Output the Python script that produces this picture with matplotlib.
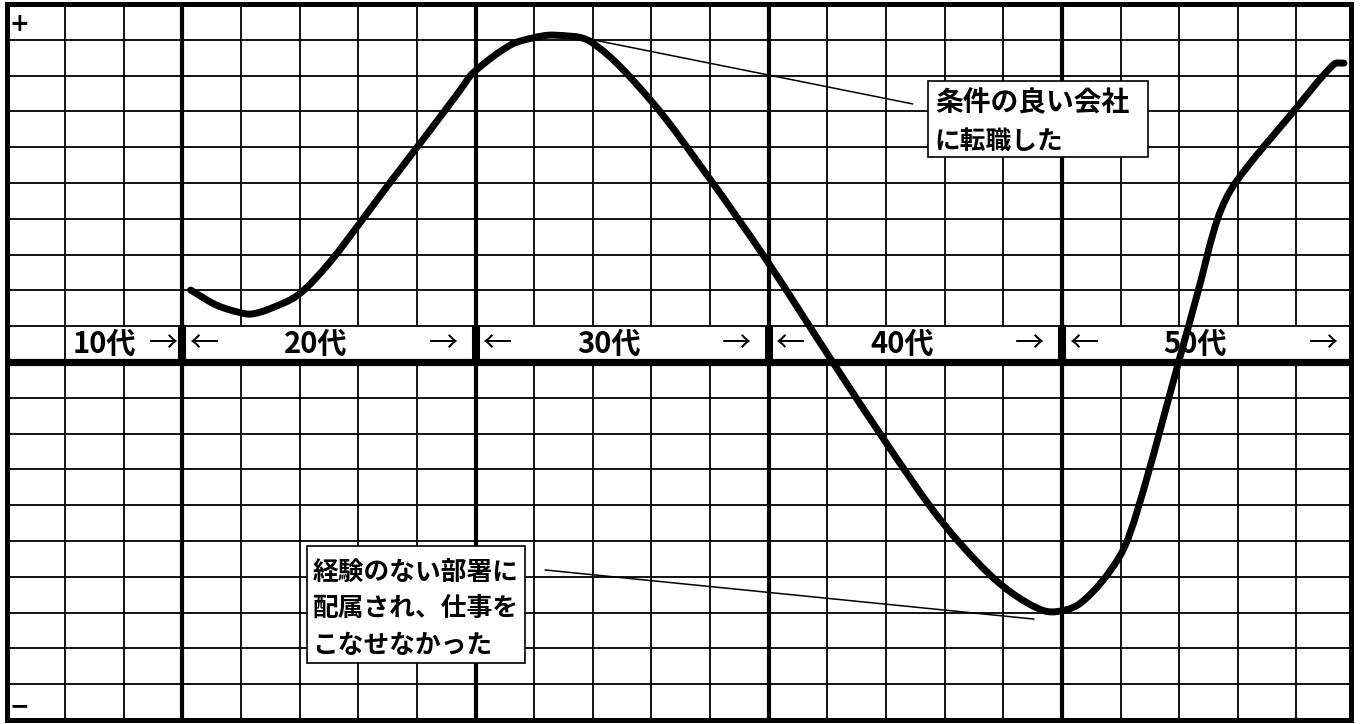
import matplotlib
matplotlib.use('Agg')
import matplotlib.pyplot as plt
from matplotlib.path import Path
from matplotlib.patches import PathPatch, Rectangle
import numpy as np

plt.rcParams['font.family'] = ['Noto Sans CJK JP', 'DejaVu Sans']

# ---------------- data ----------------
curve_x = [3.14, 3.58, 3.98, 4.18, 4.48, 4.97, 5.49, 5.98, 6.54, 7.19, 7.74, 7.96,
           8.59, 8.97, 9.33, 9.97, 10.98, 11.97, 12.96, 14.09, 14.97, 15.76, 16.27,
           16.87, 17.38, 17.81, 18.32, 18.97, 19.29, 19.99, 20.32, 20.66, 20.96,
           21.95, 22.64, 22.81]
curve_y = [2.01, 1.59, 1.38, 1.34, 1.48, 1.87, 2.74, 3.78, 5.01, 6.40, 7.60, 8.08,
           8.85, 9.05, 9.13, 8.94, 7.32, 5.17, 2.85, 0.0, -2.18, -4.05, -5.08,
           -6.09, -6.70, -6.98, -6.73, -5.47, -4.13, 0.0, 1.96, 4.02, 5.01,
           7.00, 8.32, 8.35]

decade_labels = ['10代', '20代', '30代', '40代', '50代']
decade_starts = [1, 3, 8, 13, 18]
decade_ends = [3, 8, 13, 18, 22.93]

note_good = ['条件の良い会社', 'に転職した']
note_good_point = (9.70, 9.10)
note_bad = ['経験のない部署に', '配属され、仕事を', 'こなせなかった']
note_bad_point = (17.52, -7.18)

X_MAX = 22.93
Y_MIN, Y_MAX = -10, 10

# ---------------- figure ----------------
W, H = 1360, 724
fig = plt.figure(figsize=(W / 100, H / 100), dpi=100)
left_px, right_px, top_px, bottom_px = 6.5, 1351, 4, 720
ax = fig.add_axes([left_px / W, (H - bottom_px) / H,
                   (right_px - left_px) / W, (bottom_px - top_px) / H])
ax.set_xlim(0, X_MAX)
ax.set_ylim(Y_MIN, Y_MAX)
ax.set_xticks([])
ax.set_yticks([])
for s in ax.spines.values():
    s.set_linewidth(3.6)
    s.set_color('black')
    s.set_zorder(10)

# grid
for gx in range(1, 23):
    lw = 3.0 if gx in (3, 8, 13, 18) else 1.3
    ax.axvline(gx, color='black', lw=lw, zorder=1 if lw < 2 else 3)
for gy in range(-9, 10):
    if gy == 0:
        continue
    ax.axhline(gy, color='black', lw=1.3, zorder=3)
ax.axhline(0, color='black', lw=5.2, zorder=4)

# decade label row
LFS = 21
for i, (lab, s, e) in enumerate(zip(decade_labels, decade_starts, decade_ends)):
    ax.add_patch(Rectangle((s + 0.03, 0.0), (e - s) - 0.06, 1.0,
                           facecolor='white', edgecolor='none', zorder=2))
    if i == 0:
        ax.text(1.12, 0.5, lab, ha='left', va='center', fontsize=LFS,
                fontweight='bold', zorder=5)
        ax.text(e - 0.07, 0.5, '→', ha='right', va='center', fontsize=LFS, zorder=5)
    else:
        ax.text(s + 0.13, 0.5, '←', ha='left', va='center', fontsize=LFS, zorder=5)
        ax.text(s + 2.27, 0.5, lab, ha='center', va='center', fontsize=LFS,
                fontweight='bold', zorder=5)
        ax.text(s + 4.70, 0.5, '→', ha='right', va='center', fontsize=LFS, zorder=5)
for s in decade_starts[1:]:
    ax.plot([s, s], [0, 1], color='black', lw=5.8, solid_capstyle='butt', zorder=4)

# smooth curve through read points (chord-length Catmull-Rom -> cubic Bezier)
def smooth_path(xs, ys, sx=58.6, sy=35.8):
    P = np.column_stack([xs, ys]).astype(float)
    n = len(P)
    def dist(a, b):
        return np.hypot((a[0] - b[0]) * sx, (a[1] - b[1]) * sy)
    T = []
    for i in range(n):
        if i == 0:
            T.append((P[1] - P[0]) / dist(P[1], P[0]))
        elif i == n - 1:
            T.append((P[-1] - P[-2]) / dist(P[-1], P[-2]))
        else:
            T.append((P[i + 1] - P[i - 1]) / (dist(P[i], P[i - 1]) + dist(P[i + 1], P[i])))
    verts = [P[0]]
    codes = [Path.MOVETO]
    for i in range(n - 1):
        d = dist(P[i], P[i + 1])
        verts += [P[i] + T[i] * d / 3, P[i + 1] - T[i + 1] * d / 3, P[i + 1]]
        codes += [Path.CURVE4] * 3
    return Path(verts, codes)

ax.add_patch(PathPatch(smooth_path(curve_x, curve_y), facecolor='none',
                       edgecolor='black', lw=5.0, capstyle='round',
                       joinstyle='round', zorder=7))

# annotations
ax.add_patch(Rectangle((15.71, 5.73), 19.46 - 15.71, 7.85 - 5.73,
                       facecolor='white', edgecolor='black', lw=1.2, zorder=8))
ax.text(15.83, 7.23, note_good[0], ha='left', va='center', fontsize=20,
        fontweight='bold', zorder=9)
ax.text(15.83, 6.17, note_good[1], ha='left', va='center', fontsize=18.5,
        fontweight='bold', zorder=9)
ax.plot([note_good_point[0], 15.45], [note_good_point[1], 7.21],
        color='black', lw=1.1, zorder=6)

ax.add_patch(Rectangle((5.13, -8.41), 8.85 - 5.13, 8.41 - 5.14,
                       facecolor='white', edgecolor='black', lw=1.2, zorder=8))
for k, line in enumerate(note_bad):
    ax.text(5.22, [-5.87, -6.87, -7.91][k], line, ha='left', va='center',
            fontsize=18.5, fontweight='bold', zorder=9)
ax.plot([9.19, note_bad_point[0]], [-5.81, note_bad_point[1]],
        color='black', lw=1.1, zorder=6)

# +/- markers
ax.text(0.22, 9.45, '+', ha='center', va='center', fontsize=17,
        fontweight='bold', family=['DejaVu Sans'], zorder=9)
ax.text(0.22, -9.62, '−', ha='center', va='center', fontsize=17,
        fontweight='bold', family=['DejaVu Sans'], zorder=9)

fig.savefig('out.png', dpi=100)
